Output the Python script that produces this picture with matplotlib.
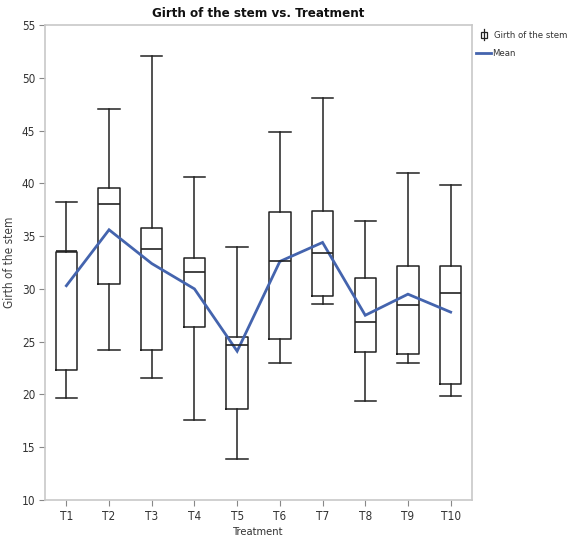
import matplotlib
matplotlib.use("Agg")
import matplotlib.pyplot as plt
from matplotlib import font_manager
from matplotlib.lines import Line2D
from matplotlib.patches import Rectangle

fonts = font_manager.fontManager.ttflist
names = {f.name for f in fonts}
condensed = [f for f in fonts if f.name == "DejaVu Sans" and f.stretch == "condensed"]
if "Liberation Sans Narrow" in names:
    FONT, STRETCH = "Liberation Sans Narrow", "normal"
elif condensed:
    FONT, STRETCH = "DejaVu Sans", "condensed"
else:
    FONT, STRETCH = "Roboto", "normal"
plt.rcParams["font.family"] = [FONT, "DejaVu Sans"]
plt.rcParams["font.stretch"] = STRETCH

treatments = ["T1", "T2", "T3", "T4", "T5", "T6", "T7", "T8", "T9", "T10"]
whisker_low = [19.7, 24.2, 21.6, 17.6, 13.9, 23.0, 28.6, 19.4, 23.0, 19.9]
q1 = [22.3, 30.5, 24.2, 26.4, 18.6, 25.3, 29.3, 24.0, 23.8, 21.0]
median = [33.6, 38.0, 33.8, 31.6, 24.7, 32.6, 33.4, 26.9, 28.5, 29.6]
q3 = [33.5, 39.6, 35.8, 32.9, 25.4, 37.3, 37.4, 31.0, 32.2, 32.2]
whisker_high = [38.2, 47.0, 52.1, 40.6, 34.0, 44.9, 48.1, 36.4, 41.0, 39.8]
means = [30.3, 35.6, 32.4, 30.0, 24.1, 32.6, 34.4, 27.5, 29.5, 27.8]

fig = plt.figure(figsize=(5.67, 5.36), dpi=100)
ax = fig.add_axes([45 / 567, 36 / 536, (472 - 45) / 567, (500 - 25) / 536])

stats = []
for i, t in enumerate(treatments):
    stats.append(dict(label=t, whislo=whisker_low[i], q1=q1[i], med=median[i],
                      q3=q3[i], whishi=whisker_high[i], fliers=[]))

positions = list(range(len(treatments)))
line_kw = dict(color="#222222", linewidth=1.1)
ax.bxp(stats, positions=positions, widths=0.5, showfliers=False,
       boxprops=line_kw, whiskerprops=line_kw, capprops=line_kw,
       medianprops=dict(color="#222222", linewidth=1.2), capwidths=0.5)

ax.plot(positions, means, color="#4464ae", linewidth=2.0, solid_joinstyle="miter")

ax.set_xlim(-0.5, len(treatments) - 0.5)
ax.set_ylim(10, 55)
ax.set_yticks(range(10, 56, 5))
ax.set_xticks(positions)
ax.set_xticklabels(treatments)

for s in ax.spines.values():
    s.set_color("#c8c8c8")
    s.set_linewidth(1.2)
ax.tick_params(axis="both", colors="#888888", labelcolor="#333333",
               labelsize=8.5, length=4, width=0.8, pad=3)

ax.set_title("Girth of the stem vs. Treatment", fontsize=9.5, fontweight="bold",
             color="#111111", pad=6)
ax.set_xlabel("Treatment", fontsize=8, color="#333333", labelpad=3)
ax.set_ylabel("Girth of the stem", fontsize=8.5, color="#404040", labelpad=4)

# legend drawn in pixel coordinates to the right of the plot
def fx(px):
    return px / 567

def fy(py):
    return 1 - py / 536

fig.add_artist(Line2D([fx(484), fx(484)], [fy(29), fy(40)], color="#222222", lw=0.9))
fig.add_artist(Rectangle((fx(480.5), fy(37.5)), 7 / 567, 6 / 536, facecolor="white",
                         edgecolor="#222222", lw=0.9))
fig.text(fx(494), fy(35), "Girth of the stem", fontsize=6.8, color="#333333", va="center")
fig.add_artist(Line2D([fx(476), fx(491)], [fy(53), fy(53)], color="#4464ae", lw=2.0))
fig.text(fx(492), fy(53), "Mean", fontsize=6.8, color="#333333", va="center")

fig.savefig("out.png", dpi=100)
